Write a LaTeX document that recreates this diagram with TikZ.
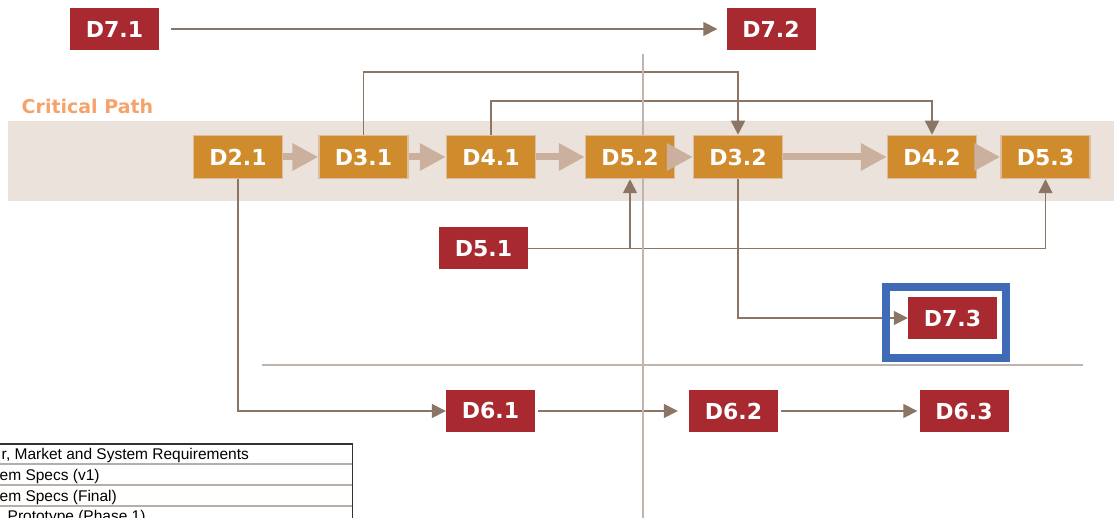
\documentclass[tikz,border=0pt]{standalone}
\usepackage{fontspec}
\setmainfont{DejaVu Sans}
\newfontfamily\tablefont{Liberation Sans}
\usetikzlibrary{arrows.meta}
\pgfdeclarelayer{bg}
\pgfdeclarelayer{mid}
\pgfsetlayers{bg,mid,main}
\definecolor{cRed}{HTML}{A8292F}
\definecolor{cOrange}{HTML}{D08C2C}
\definecolor{cOrangeEdge}{HTML}{DCBE9E}
\definecolor{cBand}{HTML}{EBE3DB}
\definecolor{cThick}{HTML}{CBB09E}
\definecolor{cConn}{HTML}{8B7565}
\definecolor{cSep}{HTML}{C0B4AF}
\definecolor{cBlue}{HTML}{3F6AB5}
\definecolor{cCrit}{HTML}{F5A36C}
\definecolor{cTable}{HTML}{B9ADA7}
\definecolor{cTableBorder}{HTML}{333333}
\tikzset{
  redbox/.style={fill=cRed, text=white, minimum width=89pt, minimum height=42pt, inner sep=0pt,
    font=\bfseries\fontsize{22}{26}\selectfont},
  orangebox/.style={fill=cOrange, draw=cOrangeEdge, line width=1.5pt, text=white, minimum width=89pt,
    minimum height=43pt, inner sep=0pt, font=\bfseries\fontsize{22}{26}\selectfont},
  connector/.style={draw=cConn, line width=1.6pt, -{Triangle[length=14pt,width=14pt]}},
  thickarrow/.style={draw=cThick, line width=7pt, -{Triangle[length=26pt,width=26pt]}},
  sepline/.style={draw=cSep, line width=2pt},
  rowtext/.style={anchor=base west, inner sep=0pt, font=\tablefont\fontsize{15.5}{18}\selectfont}
}
\begin{document}
\begin{tikzpicture}[x=1pt, y=-1pt]
\clip (0,0) rectangle (1114,518);

% red boxes
\node[redbox] (D71) at (114.5,29) {D7.1};
\node[redbox] (D72) at (771,29) {D7.2};
\node[redbox] (D51) at (483.5,248.5) {D5.1};
\node[redbox] (D73) at (952.5,318) {D7.3};
\node[redbox] (D61) at (490.5,411) {D6.1};
\node[redbox] (D62) at (733.5,411) {D6.2};
\node[redbox] (D63) at (964,411) {D6.3};

% orange boxes (critical path)
\node[orangebox] (D21) at (238,157) {D2.1};
\node[orangebox] (D31) at (363.5,157) {D3.1};
\node[orangebox] (D41) at (491,157) {D4.1};
\node[orangebox] (D52) at (630,157) {D5.2};
\node[orangebox] (D32) at (738,157) {D3.2};
\node[orangebox] (D42) at (932,157) {D4.2};
\node[orangebox] (D53) at (1045.5,157) {D5.3};

\coordinate (y1) at (0,72);
\coordinate (y2) at (0,101);

\begin{pgfonlayer}{bg}
  \fill[cBand] (8,121) rectangle (1114,201.5);
  \node[anchor=west, inner sep=0pt, text=cCrit, font=\bfseries\fontsize{19}{22}\selectfont] (crit) at (21.5,106) {Critical Path};
\end{pgfonlayer}

\begin{pgfonlayer}{mid}
  \draw[connector, shorten <=12pt, shorten >=9pt] (D71) -- (D72);
  \draw[connector] (D31.north) -- (D31.north |- y1) -- (D32.north |- y1) -- (D32.north);
  \draw[connector] (D41.north) -- (D41.north |- y2) -- (D42.north |- y2) -- (D42.north);
  \draw[connector] (D51.east) -- (D52.south |- D51.east) -- (D52.south);
  \draw[connector] (D52.south |- D51.east) -- (D53.south |- D51.east) -- (D53.south);
  \draw[connector] (D32.south) |- (D73.west);
  \draw[connector] (D21.south) |- (D61.west);
  \draw[connector, shorten <=3pt, shorten >=11pt] (D61) -- (D62);
  \draw[connector, shorten <=3pt, shorten >=2pt] (D62) -- (D63);
  % separators
  \draw[sepline] (643,54) -- (643,518);
  \draw[sepline] (262,365) -- (1083,365);
\end{pgfonlayer}

% thick critical-path arrows
\draw[thickarrow] (D21) -- (D31);
\draw[thickarrow] (D31) -- (D41);
\draw[thickarrow] (D41) -- (D52);
\draw[thickarrow] (D52) -- (D32);
\draw[thickarrow] (D32) -- (D42);
\draw[thickarrow] (D42) -- (D53);

% highlight frame
\draw[cBlue, line width=8pt] (886,287) rectangle (1006,358);

% table
\draw[cTable, line width=2pt] (-10,463.5) -- (351.5,463.5);
\draw[cTable, line width=2pt] (-10,484.5) -- (351.5,484.5);
\draw[cTable, line width=2pt] (-10,505.5) -- (351.5,505.5);
\draw[cTableBorder, line width=1.5pt] (-10,444) rectangle (352.5,540);
\node[rowtext] (r1) at (1.5,459) {r, Market and System Requirements};
\node[rowtext] (r2) at (-0.5,480) {em Specs (v1)};
\node[rowtext] (r3) at (-0.5,501) {em Specs (Final)};
\node[rowtext] (r4) at (7.5,521.5) {Prototype (Phase 1)};
\end{tikzpicture}
\end{document}
